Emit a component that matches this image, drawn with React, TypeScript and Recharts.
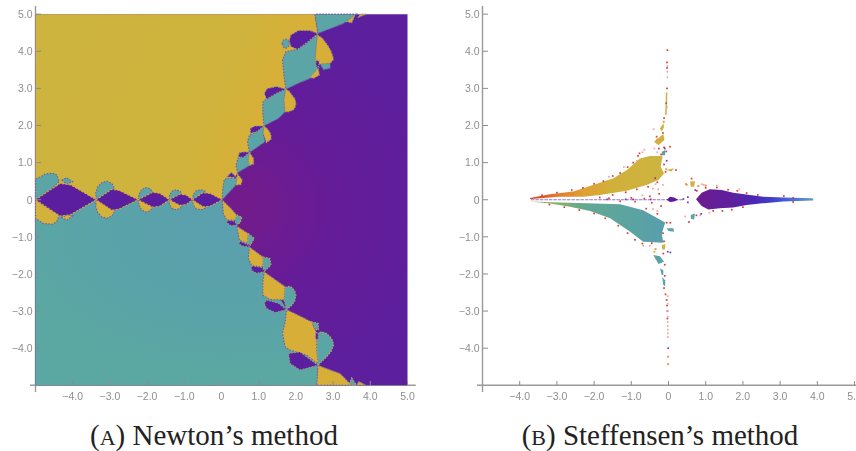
import React from 'react';
import { ScatterChart, Scatter, XAxis, YAxis, ReferenceLine } from 'recharts';

type Pt = number[];

const axisTicks = [-4, -3, -2, -1, 0, 1, 2, 3, 4, 5];
const xTickLabels = ['−4.0', '−3.0', '−2.0', '−1.0', '0', '1.0', '2.0', '3.0', '4.0', '5.0'];
const yTicks = [-4, -3, -2, -1, 0, 1, 2, 3, 4, 5];
const yTickLabels = ['−4.0', '−3.0', '−2.0', '−1.0', '0', '1.0', '2.0', '3.0', '4.0', '5.0'];

// Newton basins, big pieces
const purpleBase: Pt[] = [[-5, 5], [5, 5], [5, -5], [-5, -5]];
const yellowBase: Pt[] = [[-5, 5], [2.51, 5], [2.59, 4.48], [1.73, 2.98], [1.14, 1.99], [0.75, 1.27], [0.43, 0.73], [0.02, 0], [-5, 0]];
const tealBase: Pt[] = [[-5, 0], [0.02, 0], [0.41, -0.71], [0.75, -1.27], [1.15, -1.94], [1.75, -2.96], [2.59, -4.46], [2.56, -5], [-5, -5]];

// upper diagonal chain
const upperTeal: Pt[][] = [
  [[2.58, 4.44], [2.54, 4.03], [2.52, 3.72], [2.6, 3.5], [2.38, 3.27], [2.07, 3.14], [1.73, 2.98], [1.68, 3.32], [1.64, 3.77], [1.73, 3.99], [2.04, 4.05], [2.33, 4.26]],
  [[2.59, 4.48], [2.51, 5], [3.63, 5], [3.28, 4.75]],
  [[1.73, 2.98], [1.68, 2.69], [1.71, 2.37], [1.53, 2.19], [1.14, 1.99], [1.11, 2.33], [1.11, 2.64], [1.21, 2.71], [1.48, 2.87]],
  [[1.14, 1.99], [1.12, 1.79], [1.17, 1.56], [0.75, 1.27], [0.7, 1.56], [0.75, 1.74], [0.95, 1.83]],
  [[0.75, 1.27], [0.72, 1.07], [0.77, 0.93], [0.43, 0.73], [0.39, 0.93], [0.45, 1.13], [0.59, 1.16]],
  [[0.02, 0], [0.03, 0.26], [0.07, 0.53], [0.14, 0.58], [0.41, 0.58], [0.39, 0.4]],
  [[1.62, 4.21], [1.66, 4.3], [1.73, 4.33], [1.8, 4.3], [1.83, 4.21], [1.8, 4.12], [1.73, 4.08], [1.66, 4.12]],
  [[2.65, 3.66], [2.92, 3.68], [2.92, 3.54], [2.74, 3.5]],
];
const upperPurple: Pt[][] = [
  [[2.59, 4.48], [2.33, 4.26], [2.04, 4.05], [1.87, 4.12], [1.82, 4.28], [1.86, 4.44], [2.07, 4.56], [2.38, 4.56]],
  [[1.73, 2.98], [1.48, 2.87], [1.21, 2.71], [1.15, 2.87], [1.23, 3], [1.48, 3.05]],
  [[1.14, 1.99], [0.95, 1.83], [0.78, 1.79], [0.77, 1.92], [0.9, 1.99]],
  [[0.75, 1.27], [0.59, 1.14], [0.45, 1.16], [0.48, 1.27], [0.63, 1.29]],
  [[0.14, 0.62], [0.41, 0.59], [0.27, 0.74]],
  [[2.54, 3.76], [2.62, 3.74], [2.62, 3.58], [2.54, 3.6]],
];
const upperYellow: Pt[][] = [
  [[2.58, 4.44], [2.7, 4.36], [2.78, 4.26], [2.86, 4.15], [2.93, 4.03], [2.98, 3.9], [3.01, 3.78], [2.92, 3.68], [2.65, 3.66], [2.6, 3.68], [2.52, 3.72], [2.54, 4.03]],
  [[2.6, 3.54], [2.63, 3.36], [2.47, 3.27], [2.38, 3.3]],
  [[3.36, 4.8], [3.59, 4.98], [3.5, 4.77]],
  [[3.68, 4.92], [3.9, 5], [3.72, 5]],
  [[1.73, 2.98], [1.82, 2.92], [1.89, 2.82], [1.97, 2.72], [2, 2.6], [1.98, 2.5], [1.93, 2.42], [1.8, 2.37], [1.71, 2.37], [1.68, 2.69]],
  [[1.14, 1.99], [1.22, 1.92], [1.29, 1.83], [1.33, 1.73], [1.33, 1.63], [1.21, 1.54], [1.12, 1.79]],
  [[0.75, 1.27], [0.86, 1.11], [0.86, 0.96], [0.75, 0.93], [0.72, 1.07]],
  [[0.43, 0.69], [0.56, 0.53], [0.52, 0.41], [0.39, 0.4], [0.41, 0.58]],
];

// lower diagonal chain
const lowerYellow: Pt[][] = [
  [[0.02, 0], [0.27, -0.25], [0.41, -0.41], [0.38, -0.55], [0.14, -0.55], [0.05, -0.38]],
  [[0.41, -0.71], [0.72, -0.91], [0.7, -1.18], [0.48, -1.09]],
  [[0.75, -1.27], [1.12, -1.54], [1.11, -1.81], [0.81, -1.78], [0.72, -1.58]],
  [[1.15, -1.94], [1.71, -2.34], [1.68, -2.7], [1.3, -2.69], [1.11, -2.57], [1.11, -2.21]],
  [[1.75, -2.96], [2.07, -3.11], [2.42, -3.29], [2.56, -3.6], [2.56, -4.05], [2.59, -4.43], [2.29, -4.19], [1.84, -4.05], [1.71, -3.96], [1.64, -3.6], [1.71, -3.29]],
  [[2.59, -4.46], [2.56, -5], [3.5, -5], [3.19, -4.68]],
  [[3.68, -4.89], [3.9, -5], [3.64, -5]],
];
const lowerTeal: Pt[][] = [
  [[0.41, -0.41], [0.55, -0.47], [0.5, -0.62], [0.4, -0.68], [0.36, -0.53]],
  [[0.72, -0.91], [0.88, -1.04], [0.78, -1.22], [0.7, -1.18]],
  [[1.12, -1.54], [1.3, -1.58], [1.33, -1.76], [1.17, -1.91], [1.11, -1.81]],
  [[1.71, -2.36], [1.82, -2.33], [1.89, -2.36], [1.97, -2.46], [2, -2.57], [1.97, -2.72], [1.89, -2.84], [1.75, -2.96], [1.68, -2.7]],
  [[2.56, -3.6], [2.69, -3.56], [2.82, -3.6], [2.92, -3.69], [2.99, -3.8], [3.01, -3.92], [2.95, -4.08], [2.83, -4.23], [2.59, -4.46], [2.56, -4.05]],
  [[2.42, -3.29], [2.6, -3.33], [2.61, -3.5], [2.54, -3.5]],
  [[3.5, -4.8], [3.63, -5], [3.42, -5]],
];
const lowerPurple: Pt[][] = [
  [[0.14, -0.55], [0.36, -0.58], [0.41, -0.68], [0.25, -0.7], [0.15, -0.62]],
  [[0.47, -1.11], [0.7, -1.2], [0.75, -1.27], [0.58, -1.25], [0.48, -1.2]],
  [[0.81, -1.78], [1.11, -1.83], [1.15, -1.94], [0.95, -1.98], [0.8, -1.9]],
  [[1.21, -2.7], [1.53, -2.79], [1.75, -2.96], [1.44, -3.04], [1.21, -2.93], [1.15, -2.79]],
  [[1.8, -4.14], [2.11, -4.1], [2.59, -4.46], [2.11, -4.59], [1.84, -4.41]],
  [[2.53, -3.58], [2.6, -3.58], [2.6, -3.76], [2.53, -3.76]],
];

// chain along the negative real axis
const axisDiamonds: Pt[][] = [
  [[-5, 0], [-4.34, 0.44], [-4.05, 0.4], [-3.37, 0], [-4.05, -0.4], [-4.34, -0.44]],
  [[-3.37, 0], [-2.95, 0.28], [-2.75, 0.25], [-2.24, 0], [-2.75, -0.25], [-2.95, -0.28]],
  [[-2.24, 0], [-1.85, 0.2], [-1.65, 0.17], [-1.4, 0], [-1.65, -0.17], [-1.85, -0.2]],
  [[-1.4, 0], [-1.12, 0.15], [-0.95, 0.13], [-0.78, 0], [-0.95, -0.13], [-1.12, -0.15]],
  [[-0.78, 0], [-0.5, 0.19], [-0.3, 0.17], [0.02, 0], [-0.3, -0.17], [-0.5, -0.19]],
];
const axisTealLobes: Pt[][] = [
  [[-5, 0], [-5, 0.55], [-4.74, 0.69], [-4.55, 0.72], [-4.43, 0.67], [-4.36, 0.49], [-4.61, 0.26]],
  [[-4.3, 0.53], [-4.16, 0.59], [-4, 0.49], [-4.16, 0.42]],
  [[-3.37, 0], [-3.38, 0.18], [-3.33, 0.34], [-3.22, 0.46], [-3.08, 0.5], [-2.95, 0.44], [-2.87, 0.3], [-2.95, 0.2], [-3.09, 0.13]],
  [[-2.24, 0], [-2.22, 0.14], [-2.15, 0.27], [-2.04, 0.33], [-1.92, 0.3], [-1.85, 0.2], [-1.98, 0.12]],
  [[-1.4, 0], [-1.4, 0.12], [-1.33, 0.23], [-1.22, 0.27], [-1.1, 0.22], [-1.08, 0.15], [-1.2, 0.1]],
  [[-0.78, 0], [-0.76, 0.14], [-0.68, 0.24], [-0.55, 0.27], [-0.42, 0.22], [-0.46, 0.15], [-0.6, 0.08]],
];
const axisYellowLobes: Pt[][] = [
  [[-5, 0], [-5, -0.5], [-4.79, -0.64], [-4.55, -0.66], [-4.43, -0.59], [-4.36, -0.41], [-4.61, -0.26]],
  [[-4.3, -0.47], [-4.16, -0.55], [-4, -0.43], [-4.16, -0.42]],
  [[-3.37, 0], [-3.38, -0.18], [-3.33, -0.34], [-3.22, -0.46], [-3.08, -0.5], [-2.95, -0.44], [-2.87, -0.3], [-2.95, -0.2], [-3.09, -0.13]],
  [[-2.24, 0], [-2.22, -0.14], [-2.15, -0.27], [-2.04, -0.33], [-1.92, -0.3], [-1.85, -0.2], [-1.98, -0.12]],
  [[-1.4, 0], [-1.4, -0.12], [-1.33, -0.23], [-1.22, -0.27], [-1.1, -0.22], [-1.08, -0.15], [-1.2, -0.1]],
  [[-0.78, 0], [-0.76, -0.14], [-0.68, -0.24], [-0.55, -0.27], [-0.42, -0.22], [-0.46, -0.15], [-0.6, -0.08]],
];

// Steffensen islands
const wingUpper: Pt[] = [[-3.72, 0.05], [-3.19, 0.15], [-2.56, 0.22], [-2.11, 0.37], [-1.48, 0.58], [-1.12, 0.8], [-0.77, 1.11], [-0.5, 1.18], [-0.16, 1.18], [-0.21, 0.89], [-0.12, 0.71], [-0.27, 0.53], [-0.59, 0.4], [-1.12, 0.24], [-1.84, 0.13], [-2.29, 0.08], [-2.92, 0.08], [-3.72, 0.02]];
const wingLower: Pt[] = [[-3.74, -0.05], [-2.65, -0.08], [-1.3, -0.12], [-0.68, -0.28], [-0.09, -0.61], [-0.18, -0.91], [-0.14, -1.16], [-0.68, -1.13], [-1.03, -0.86], [-1.57, -0.5], [-2.11, -0.3], [-2.65, -0.19], [-3.19, -0.1]];
const wingRight: Pt[] = [[0.74, 0.01], [0.89, 0.19], [1.11, 0.28], [1.43, 0.26], [1.74, 0.19], [2.19, 0.13], [2.55, 0.08], [3.09, 0.06], [3.89, 0.04], [3.89, -0.02], [3.09, -0.05], [2.46, -0.1], [2.1, -0.14], [1.74, -0.21], [1.38, -0.23], [1.07, -0.26], [0.89, -0.17]];
const centerBlob: Pt[] = [[-0.05, 0], [0.04, 0.08], [0.15, 0.06], [0.26, 0], [0.15, -0.05], [0.04, -0.06]];
const axisStrip: Pt[] = [[-3.7, 0], [0.4, 0]];
const yellowIslands: Pt[][] = [
  [[-0.39, 1.56], [-0.14, 1.77], [-0.11, 1.61], [-0.27, 1.47]],
  [[-0.23, 1.92], [-0.14, 2.06], [-0.12, 1.97], [-0.18, 1.83]],
  [[-0.09, 2.28], [-0.07, 2.87], [-0.03, 2.91], [-0.05, 2.28]],
  [[-0.05, 0.8], [0.15, 0.85], [0.08, 0.76]],
  [[0.58, 0.49], [0.71, 0.5], [0.69, 0.35], [0.6, 0.35]],
  [[-0.18, -1.22], [-0.08, -1.2], [-0.1, -1.34], [-0.17, -1.34]],
  [[-0.41, -1.36], [-0.34, -1.4], [-0.39, -1.45]],
];
const tealIslands: Pt[][] = [
  [[-0.18, 1.29], [-0.09, 1.34], [-0.09, 1.2], [-0.18, 1.2]],
  [[-0.41, -1.49], [-0.23, -1.52], [-0.12, -1.67], [-0.27, -1.73]],
  [[-0.23, -1.85], [-0.14, -1.9], [-0.14, -2.03], [-0.18, -2.03]],
  [[-0.17, -2.09], [-0.09, -2.17], [-0.09, -2.33], [-0.14, -2.3]],
  [[-0.05, -0.77], [0.13, -0.77], [0.15, -0.86], [0, -0.84]],
  [[0.6, -0.41], [0.71, -0.37], [0.69, -0.53], [0.6, -0.51]],
];
const redDots: Pt[] = [
  [-3.4, 0.12], [-3, 0.19], [-2.6, 0.26], [-2.3, 0.32], [-2, 0.43], [-1.75, 0.5], [-1.5, 0.64], [-1.3, 0.72], [-1.1, 0.88], [-0.95, 1], [-0.82, 1.18], [-0.78, 1.25],
  [-0.2, 1.22], [-0.12, 0.95], [-0.08, 0.75], [-0.3, 0.47], [-0.55, 0.35], [-0.85, 0.28], [-1.15, 0.2], [-1.5, 0.13],
  [-1.85, 0.06], [-1.6, 0.04], [-1.3, -0.04], [-1, 0.05], [-0.9, -0.05], [-0.65, 0.03], [-0.5, 0.09], [-0.45, -0.08], [-0.25, 0.16], [-0.2, -0.17],
  [0.04, 1.43], [-0.32, 1.7], [-0.15, 1.8], [-0.12, 2.2], [-0.06, 2.6], [-0.04, 3], [-0.04, 3.55], [-0.04, 3.7], [-0.03, 4.03], [-0.26, 1.38], [-0.12, 1.41], [-0.06, 1.3],
  [-3.2, -0.13], [-2.8, -0.2], [-2.4, -0.28], [-2, -0.37], [-1.7, -0.5], [-1.35, -0.7], [-1.1, -0.9], [-0.9, -1.08], [-0.7, -1.18], [-0.45, -1.17], [-0.12, -1.12], [-0.15, -0.9], [-0.05, -0.62], [-0.3, -0.38], [-0.6, -0.24],
  [0.05, -0.62], [-0.14, -1.45], [-0.1, -1.75], [-0.1, -2.05], [-0.12, -2.38], [-0.08, -2.55], [-0.05, -2.7], [-0.04, -2.85], [-0.03, -3], [-0.03, -3.2],
  [0.76, 0.24], [1, 0.32], [1.3, 0.33], [1.6, 0.27], [1.85, 0.24], [2.1, 0.18], [2.4, 0.13], [3.1, 0.1], [3.35, 0.05], [1.2, -0.3], [1.45, -0.3], [1.7, -0.27], [2, -0.2], [0.62, 0.57], [0.55, -0.6], [0.2, 0.8], [0.75, -0.42], [3.35, -0.06],
];
const pinkDots: Pt[] = [
  [-1.2, 0.88], [-1.6, 0.62], [-0.85, 1.05], [-0.65, 1.35], [-0.7, 1.28], [-0.4, 1.9], [-0.35, 0.42], [-0.42, 0.3], [-0.28, 0.28], [-0.15, 0.4],
  [-0.38, 1.38], [-0.3, 1.28], [-0.03, 3.3], [-0.03, 3.45], [-0.03, 3.6], [-0.04, 2.5], [-0.07, 2.35],
  [-0.02, -2.6], [-0.02, -2.8], [-0.02, -3], [-0.02, -3.15], [-0.02, -3.3], [-0.02, -3.4], [-0.02, -3.5], [-0.02, -3.6], [-0.02, -3.7],
  [-0.5, -1.24], [-0.68, -1.24], [-0.42, -0.25], [-0.3, -0.3], [-0.7, 0.12], [0.5, 0.4], [0.45, -0.45], [0.85, -0.42], [1.1, -0.35], [1.3, 0.38], [1.9, 0.28], [0.95, 0.4], [0.9, 0.42],
];
const purpleDots: Pt[] = [
  [-0.05, 1.05], [-0.1, 1.38], [-0.36, 0.58], [-0.02, -1.4], [0.05, -1.42], [-0.01, -4], [0.52, -0.07], [0.4, 0.02], [0.52, 0.07], [-1.65, 0.01], [-1.15, 0.01], [-0.95, 0.01], [-0.48, 0.01], [0.72, 0.26], [0.88, -0.38],
];
const orangeDots: Pt[] = [
  [-0.01, -4.23], [-0.01, -4.43], [-0.13, 2.1], [-0.3, 1.62], [-0.06, 0.82], [-0.4, 0.55], [0.47, 0.42], [0.8, 0.37], [1, 0.38], [-0.35, -1.33],
];

const toPoints = (pts: Pt[]) => pts.map(([x, y]) => ({ x, y }));
const noMark = () => <g />;
const square = (size: number) => (p: any) => (
  <rect x={p.cx - size / 2} y={p.cy - size / 2} width={size} height={size} fill={p.fill} />
);

const region = (key: string, pts: Pt[], fill: string, stroke = 'none', dash = '') => (
  <Scatter
    key={key}
    data={toPoints(pts)}
    shape={noMark}
    lineType="joint"
    lineJointType="linearClosed"
    line={{ fill, stroke, strokeWidth: 1.1, strokeDasharray: dash }}
    isAnimationActive={false}
  />
);

const dots = (key: string, pts: Pt[], color: string, size = 1.7) => (
  <Scatter key={key} data={toPoints(pts)} fill={color} shape={square(size)} isAnimationActive={false} />
);

const TEAL = '#5ba5a6';
const YELLOW = '#d2b23a';
const PURPLE = '#5a1e9e';
const RIM = '#6f5aa6';
const RIM_WARM = '#d9a53f';

const XTick = (p: any) => {
  const i = axisTicks.indexOf(p.payload.value);
  return (
    <g>
      <line x1={p.x} x2={p.x} y1={381} y2={385} stroke="#8c8c8c" />
      <text x={p.x} y={400} textAnchor="middle" fontSize={10.5} fill="#8f8f8f" fontFamily="'Liberation Sans'">{xTickLabels[i]}</text>
    </g>
  );
};

const YTick = (p: any) => {
  const i = yTicks.indexOf(p.payload.value);
  return (
    <g>
      <line x1={36} x2={41} y1={p.y} y2={p.y} stroke="#8c8c8c" />
      <text x={32.5} y={p.y + 3.8} textAnchor="end" fontSize={10.5} fill="#8f8f8f" fontFamily="'Liberation Sans'">{yTickLabels[i]}</text>
    </g>
  );
};

const Frame: React.FC<{ left: number; children: React.ReactNode }> = ({ left, children }) => (
  <div style={{ position: 'absolute', left, top: 0, filter: 'blur(0.3px)' }}>
    <ScatterChart width={428} height={451} margin={{ top: 6, left: 29, right: 12.3, bottom: 58 }}>
      <XAxis type="number" dataKey="x" domain={[-5.148, 5.22]} ticks={axisTicks} interval={0} height={1} axisLine={false} tickLine={false} tick={XTick} allowDataOverflow />
      <YAxis type="number" dataKey="y" domain={[-5.18, 5.22]} ticks={yTicks} interval={0} width={1} axisLine={false} tickLine={false} tick={YTick} allowDataOverflow />
      {children}
      <ReferenceLine x={-5} stroke="#9a9a9a" strokeWidth={1.4} />
      <ReferenceLine y={-5} stroke="#9a9a9a" strokeWidth={1.4} />
    </ScatterChart>
  </div>
);

const Caption: React.FC<{ left: number; width: number; tag: string; text: string }> = ({ left, width, tag, text }) => (
  <div style={{ position: 'absolute', left, top: 418, width, textAlign: 'center', fontFamily: "'Liberation Serif'", fontSize: 29, lineHeight: '34px', color: '#222', whiteSpace: 'nowrap' }}>
    (<span style={{ fontSize: 22 }}>{tag}</span>) {text}
  </div>
);

export default function App() {
  return (
    <div style={{ position: 'absolute', left: 0, top: 0, width: 856, height: 451, overflow: 'hidden', background: '#fff' }}>
      <Frame left={0}>
        <defs>
          <radialGradient id="purpleFill" cx="0.55" cy="0.52" r="0.55">
            <stop offset="0%" stopColor="#741b8a" />
            <stop offset="45%" stopColor="#651c98" />
            <stop offset="100%" stopColor="#5c1f9e" />
          </radialGradient>
          <linearGradient id="yellowFill" x1="0" y1="0" x2="1" y2="0.3">
            <stop offset="0%" stopColor="#ccb43f" />
            <stop offset="70%" stopColor="#cfb33c" />
            <stop offset="100%" stopColor="#dcae35" />
          </linearGradient>
          <radialGradient id="tealFill" cx="0.68" cy="0.15" r="0.8">
            <stop offset="0%" stopColor="#5a9fae" />
            <stop offset="60%" stopColor="#5aa3a8" />
            <stop offset="100%" stopColor="#5ba8a2" />
          </radialGradient>
        </defs>
        {region('base-p', purpleBase, 'url(#purpleFill)')}
        {region('base-y', yellowBase, 'url(#yellowFill)')}
        {region('base-t', tealBase, 'url(#tealFill)')}
        {axisTealLobes.map((d, i) => region(`at${i}`, d, TEAL, RIM, '1.5 1.5'))}
        {axisYellowLobes.map((d, i) => region(`ay${i}`, d, YELLOW, RIM, '1.5 1.5'))}
        {axisDiamonds.map((d, i) => region(`ad${i}`, d, PURPLE, RIM_WARM, '2 1.5'))}
        {upperTeal.map((d, i) => region(`ut${i}`, d, TEAL, RIM, '1.5 1.5'))}
        {upperYellow.map((d, i) => region(`uy${i}`, d, '#d6ae38', '#9a9a70', '1.5 1.5'))}
        {upperPurple.map((d, i) => region(`up${i}`, d, PURPLE, '#a09a80', '1.5 1.5'))}
        {lowerYellow.map((d, i) => region(`ly${i}`, d, '#d6ae38', RIM, '1.5 1.5'))}
        {lowerTeal.map((d, i) => region(`lt${i}`, d, TEAL, '#c0a860', '1.5 1.5'))}
        {lowerPurple.map((d, i) => region(`lp${i}`, d, PURPLE, '#a09a80', '1.5 1.5'))}
      </Frame>
      <Frame left={447}>
        <defs>
          <linearGradient id="wingUp" x1="0" y1="0" x2="1" y2="0">
            <stop offset="0%" stopColor="#dc2f24" />
            <stop offset="18%" stopColor="#e0772c" />
            <stop offset="40%" stopColor="#dfa032" />
            <stop offset="62%" stopColor="#d1b03a" />
            <stop offset="100%" stopColor="#ccb440" />
          </linearGradient>
          <linearGradient id="wingDown" x1="0" y1="0" x2="1" y2="0">
            <stop offset="0%" stopColor="#c3b845" />
            <stop offset="18%" stopColor="#8cb268" />
            <stop offset="42%" stopColor="#62a892" />
            <stop offset="100%" stopColor="#579fad" />
          </linearGradient>
          <linearGradient id="wingRight" x1="0" y1="0" x2="1" y2="0">
            <stop offset="0%" stopColor="#6e1b90" />
            <stop offset="30%" stopColor="#5e1f9e" />
            <stop offset="50%" stopColor="#4c28b4" />
            <stop offset="65%" stopColor="#3f3fcc" />
            <stop offset="85%" stopColor="#4a78d8" />
            <stop offset="100%" stopColor="#6a9cc0" />
          </linearGradient>
        </defs>
        {region('strip', axisStrip, 'none', '#9a78bc', '3 1.5')}
        {region('wing-u', wingUpper, 'url(#wingUp)')}
        {region('wing-d', wingLower, 'url(#wingDown)')}
        {region('wing-r', wingRight, 'url(#wingRight)')}
        {region('blob', centerBlob, '#5c1a9c')}
        {yellowIslands.map((d, i) => region(`yi${i}`, d, '#cfb040'))}
        {tealIslands.map((d, i) => region(`ti${i}`, d, '#59a3a8'))}
        {dots('red', redDots, '#dc3a30')}
        {dots('pink', pinkDots, '#eda6a0')}
        {dots('purple', purpleDots, '#7a3aa8')}
        {dots('orange', orangeDots, '#e79a50', 2)}
      </Frame>
      <Caption left={36} width={356} tag="A" text="Newton’s method" />
      <Caption left={473} width={374} tag="B" text="Steffensen’s method" />
    </div>
  );
}
